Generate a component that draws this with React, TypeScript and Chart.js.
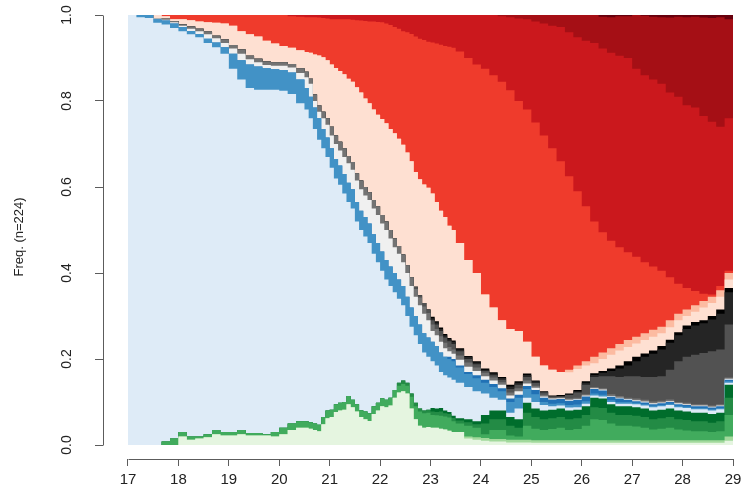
import React, { useEffect, useRef } from 'react';
import { Chart, registerables } from 'chart.js';

Chart.register(...registerables);

// ---- axes / categories ----
const FIRST_AGE = 17;
const LAST_AGE = 29;
const ageTicks = [17, 18, 19, 20, 21, 22, 23, 24, 25, 26, 27, 28, 29];
const freqTicks = [0, 0.2, 0.4, 0.6, 0.8, 1.0];
const yTitle = 'Freq. (n=224)';

// start of every time step, in months after age 17
// (two-month steps, monthly steps between 20.5 and 23.5, then two-month steps)
const stepStartMonths = [
  0, 2, 4, 6, 8, 10, 12, 14, 16, 18, 20, 22, 24, 26, 28, 30, 32, 34, 36, 38, 40,
  42, 43, 44, 45, 46, 47, 48, 49, 50, 51, 52, 53, 54, 55, 56, 57, 58, 59,
  60, 61, 62, 63, 64, 65, 66, 67, 68, 69, 70, 71, 72, 73, 74, 75, 76, 77,
  78, 80, 82, 84, 86, 88, 90, 92, 94, 96, 98, 100, 102, 104, 106, 108, 110,
  112, 114, 116, 118, 120, 122, 124, 126, 128, 130, 132, 134, 136, 138, 140, 142,
];

// ---- cumulative upper boundary of every state (bottom to top) ----
const lightGreenTop = [
  0, 0, 0, 0, 0, 0, .02, .012, .015, .018, .025, .022, .022, .025, .022, .022, .022, .02, .025, .035, .04,
  .04, .038, .035, .032, .048, .062, .065, .077, .08, .082, .095, .088, .078, .065, .06, .056, .072, .08,
  .09, .088, .092, .11, .122, .125, .12, .085, .06, .045, .04, .042, .04, .04, .038, .036, .033, .03,
  .03, .015, .012, .01, .008, .008, .006, .006, .006, .005, .005, .005, .005, .005, .005, .005, .005, .005,
  .005, .005, .005, .005, .005, .005, .005, .005, .005, .005, .005, .005, .005, .005, .01,
];
const paleGreenTop = [
  0, 0, 0, 0, 0, 0, .02, .012, .015, .018, .025, .022, .022, .025, .022, .022, .022, .02, .025, .035, .04,
  .04, .038, .035, .032, .048, .062, .065, .077, .08, .082, .095, .088, .078, .065, .06, .056, .072, .08,
  .09, .088, .092, .11, .122, .125, .12, .085, .06, .045, .04, .042, .04, .04, .038, .036, .033, .03,
  .03, .02, .018, .016, .014, .014, .012, .012, .012, .011, .011, .011, .011, .011, .011, .011, .011, .011,
  .011, .011, .011, .011, .011, .011, .011, .011, .011, .011, .011, .011, .011, .011, .02,
];
const midGreenTop = [
  0, 0, 0, 0, .008, .015, .03, .02, .02, .025, .035, .03, .03, .035, .028, .028, .025, .03, .04, .05, .055,
  .055, .053, .05, .047, .065, .08, .082, .095, .098, .1, .114, .105, .095, .081, .078, .074, .09, .098,
  .109, .105, .11, .128, .138, .142, .138, .112, .09, .078, .074, .075, .07, .069, .068, .066, .064, .055,
  .05, .045, .04, .025, .035, .035, .022, .02, .045, .038, .035, .037, .04, .035, .037, .045, .06, .058,
  .05, .045, .045, .043, .04, .036, .038, .04, .036, .034, .032, .032, .03, .032, .07,
];
const greenTop = [
  0, 0, 0, 0, .008, .015, .03, .02, .02, .025, .035, .03, .03, .035, .028, .028, .025, .03, .04, .05, .055,
  .055, .053, .05, .047, .065, .08, .082, .095, .098, .1, .114, .105, .095, .081, .078, .074, .09, .098,
  .109, .105, .11, .128, .145, .15, .145, .12, .098, .085, .08, .082, .078, .077, .078, .074, .072, .063,
  .057, .053, .048, .05, .06, .06, .045, .04, .075, .065, .06, .062, .065, .06, .062, .07, .088, .086,
  .075, .07, .07, .068, .065, .06, .062, .065, .06, .058, .055, .055, .052, .055, .11,
];
const darkGreenTop = [
  0, 0, 0, 0, .008, .015, .03, .02, .02, .025, .035, .03, .03, .035, .028, .028, .025, .03, .04, .05, .055,
  .055, .053, .05, .047, .065, .08, .082, .095, .098, .1, .114, .105, .095, .081, .078, .074, .09, .098,
  .109, .105, .11, .128, .145, .15, .145, .12, .098, .085, .08, .082, .086, .085, .086, .08, .077, .068,
  .062, .06, .055, .07, .08, .08, .065, .06, .098, .085, .08, .082, .085, .08, .082, .09, .11, .108,
  .095, .09, .09, .088, .085, .08, .082, .085, .08, .078, .075, .075, .072, .075, .14,
];
const lightBlueTop = [
  1, .995, .993, .982, .978, .97, .962, .955, .948, .935, .925, .91, .875, .85, .83, .826, .826, .826, .824, .816, .795,
  .78, .76, .735, .71, .69, .67, .645, .62, .605, .585, .565, .55, .52, .5, .485, .47, .445, .425,
  .405, .385, .37, .355, .34, .325, .3, .275, .255, .235, .215, .205, .195, .185, .17, .162, .157, .152,
  .145, .135, .125, .12, .11, .105, .075, .085, .11, .1, .093, .09, .092, .087, .088, .096, .115, .113,
  .1, .096, .096, .095, .092, .088, .09, .093, .088, .086, .083, .083, .08, .083, .145,
];
const blueTop = [
  1, 1, 1, .99, .987, .98, .972, .963, .955, .945, .936, .925, .91, .895, .885, .88, .876, .874, .872, .866, .85,
  .83, .81, .785, .76, .735, .715, .69, .665, .65, .63, .61, .595, .565, .545, .53, .515, .49, .47,
  .45, .43, .415, .4, .385, .37, .345, .32, .3, .28, .26, .25, .24, .23, .215, .205, .2, .195,
  .18, .165, .155, .145, .135, .125, .1, .11, .13, .118, .1, .096, .097, .093, .094, .102, .12, .117,
  .104, .1, .1, .098, .095, .091, .093, .096, .091, .089, .086, .086, .083, .086, .148,
];
const deepBlueTop = [
  1, 1, 1, .99, .987, .98, .972, .963, .955, .945, .936, .925, .91, .895, .885, .88, .876, .874, .872, .866, .85,
  .83, .81, .785, .76, .735, .715, .69, .665, .65, .63, .61, .595, .565, .545, .53, .515, .49, .47,
  .45, .43, .415, .4, .385, .37, .345, .32, .3, .28, .26, .25, .24, .23, .215, .205, .205, .2,
  .185, .17, .162, .152, .142, .132, .108, .117, .137, .128, .11, .106, .107, .103, .105, .113, .13, .127,
  .112, .108, .105, .102, .099, .095, .097, .1, .095, .093, .09, .09, .087, .09, .152,
];
const whiteTop = [
  1, 1, 1, .992, .989, .983, .975, .968, .962, .955, .946, .935, .922, .91, .897, .89, .884, .882, .882, .878, .865,
  .855, .84, .8, .775, .76, .745, .72, .7, .685, .67, .655, .64, .615, .595, .58, .57, .55, .535,
  .515, .5, .48, .46, .445, .425, .4, .37, .345, .325, .305, .29, .265, .255, .24, .225, .218, .212,
  .198, .182, .172, .16, .15, .14, .115, .125, .143, .133, .113, .108, .109, .105, .107, .115, .132, .129,
  .114, .11, .107, .104, .101, .097, .099, .102, .097, .095, .092, .092, .089, .092, .154,
];
const grayTop = [
  1, 1, 1, .993, .991, .986, .978, .973, .968, .962, .952, .943, .93, .92, .905, .898, .892, .89, .89, .886, .876,
  .868, .852, .815, .79, .775, .76, .74, .72, .705, .69, .672, .658, .632, .615, .6, .588, .57, .555,
  .535, .52, .5, .48, .463, .443, .418, .39, .363, .343, .322, .307, .28, .27, .253, .238, .228, .222,
  .208, .192, .18, .168, .157, .146, .122, .132, .15, .138, .117, .11, .111, .108, .11, .118, .135, .132,
  .118, .114, .11, .108, .105, .101, .103, .106, .1, .098, .095, .095, .092, .095, .157,
];
const darkGrayTop = [
  1, 1, 1, .993, .991, .986, .978, .973, .968, .962, .952, .943, .93, .92, .905, .898, .892, .89, .89, .886, .876,
  .868, .852, .815, .79, .775, .76, .74, .72, .705, .69, .672, .658, .632, .615, .6, .588, .57, .555,
  .535, .52, .5, .48, .463, .443, .418, .39, .368, .348, .33, .315, .29, .28, .265, .25, .241, .235,
  .218, .2, .188, .172, .162, .152, .13, .14, .158, .144, .122, .113, .113, .116, .122, .14, .158, .16,
  .16, .158, .16, .16, .158, .158, .16, .175, .195, .205, .21, .214, .218, .222, .28,
];
const charcoalTop = [
  1, 1, 1, .993, .991, .986, .978, .973, .968, .962, .952, .943, .93, .92, .905, .898, .892, .89, .89, .886, .876,
  .868, .852, .815, .79, .775, .76, .74, .72, .705, .69, .672, .658, .632, .615, .6, .588, .57, .555,
  .535, .52, .5, .48, .463, .443, .418, .39, .368, .348, .33, .315, .295, .285, .27, .255, .246, .24,
  .222, .205, .192, .175, .166, .156, .136, .145, .163, .148, .123, .114, .114, .118, .125, .145, .163, .168,
  .172, .178, .185, .195, .205, .212, .222, .238, .255, .27, .278, .283, .292, .305, .355,
];
const blackTop = [
  1, 1, 1, .993, .991, .986, .978, .973, .968, .962, .952, .943, .93, .92, .905, .898, .892, .89, .89, .886, .876,
  .868, .852, .815, .79, .775, .76, .74, .72, .705, .69, .672, .658, .632, .615, .6, .588, .57, .555,
  .535, .52, .5, .48, .463, .443, .418, .39, .368, .348, .33, .315, .298, .288, .273, .258, .249, .243,
  .225, .207, .195, .178, .169, .158, .14, .148, .166, .15, .125, .115, .116, .12, .128, .148, .167, .172,
  .178, .185, .195, .205, .213, .22, .23, .245, .262, .278, .286, .29, .3, .315, .365,
];
const peachTop = [
  1, 1, 1, 1, .997, .99, .99, .988, .985, .983, .982, .98, .975, .962, .955, .95, .94, .934, .928, .924, .918,
  .914, .912, .908, .906, .902, .895, .885, .877, .87, .862, .852, .845, .832, .82, .806, .795, .78, .768,
  .758, .748, .735, .725, .712, .698, .68, .66, .635, .618, .606, .598, .585, .565, .545, .53, .51, .5,
  .47, .43, .4, .35, .32, .29, .27, .265, .24, .205, .185, .175, .17, .169, .177, .185, .19, .2,
  .21, .22, .228, .236, .244, .252, .26, .274, .29, .3, .31, .32, .33, .345, .385,
];
const salmonTop = [
  1, 1, 1, 1, .997, .99, .99, .988, .985, .983, .982, .98, .975, .962, .955, .95, .94, .934, .928, .924, .918,
  .914, .912, .908, .906, .902, .895, .885, .877, .87, .862, .852, .845, .832, .82, .806, .795, .78, .768,
  .758, .748, .735, .725, .712, .698, .68, .66, .635, .618, .606, .598, .585, .565, .545, .53, .51, .5,
  .47, .43, .4, .35, .32, .29, .27, .265, .24, .205, .185, .175, .17, .175, .185, .195, .205, .215,
  .225, .235, .244, .252, .26, .268, .275, .29, .305, .315, .325, .335, .345, .36, .4,
];
const redTop = [
  1, 1, 1, 1, 1, 1, 1, 1, 1, 1, 1, 1, 1, 1, 1, 1, 1, 1, 1, .997, .996,
  .995, .995, .995, .994, .993, .992, .99, .99, .99, .99, .99, .989, .988, .987, .986, .985, .985, .984,
  .983, .98, .977, .972, .968, .962, .96, .956, .95, .945, .942, .938, .936, .934, .931, .928, .926, .924,
  .915, .9, .885, .875, .86, .845, .825, .8, .78, .75, .72, .69, .66, .625, .59, .555, .52, .495,
  .475, .46, .448, .438, .425, .415, .405, .39, .375, .365, .358, .352, .35, .37, .405,
];
const crimsonTop = [
  1, 1, 1, 1, 1, 1, 1, 1, 1, 1, 1, 1, 1, 1, 1, 1, 1, 1, 1, 1, 1,
  1, 1, 1, 1, 1, 1, 1, 1, 1, 1, 1, 1, 1, 1, 1, 1, 1, 1,
  1, 1, 1, 1, 1, 1, 1, 1, 1, 1, 1, 1, 1, 1, 1, 1, 1, 1,
  1, 1, 1, 1, 1, .997, .995, .992, .99, .985, .98, .975, .972, .96, .948, .94, .935, .922,
  .912, .905, .9, .875, .86, .85, .84, .82, .81, .79, .785, .765, .752, .74, .76,
];
const maroonTop = [
  1, 1, 1, 1, 1, 1, 1, 1, 1, 1, 1, 1, 1, 1, 1, 1, 1, 1, 1, 1, 1,
  1, 1, 1, 1, 1, 1, 1, 1, 1, 1, 1, 1, 1, 1, 1, 1, 1, 1,
  1, 1, 1, 1, 1, 1, 1, 1, 1, 1, 1, 1, 1, 1, 1, 1, 1, 1,
  1, 1, 1, 1, 1, 1, 1, 1, 1, 1, 1, 1, 1, 1, 1, 1, 1, .996,
  .995, .997, .997, 1, .998, .996, .995, .994, .996, .995, .996, .994, .993, .995, .99,
];
const darkestTop = [
  1, 1, 1, 1, 1, 1, 1, 1, 1, 1, 1, 1, 1, 1, 1, 1, 1, 1, 1, 1, 1,
  1, 1, 1, 1, 1, 1, 1, 1, 1, 1, 1, 1, 1, 1, 1, 1, 1, 1,
  1, 1, 1, 1, 1, 1, 1, 1, 1, 1, 1, 1, 1, 1, 1, 1, 1, 1,
  1, 1, 1, 1, 1, 1, 1, 1, 1, 1, 1, 1, 1, 1, 1, 1, 1, 1,
  1, 1, 1, 1, 1, 1, 1, 1, 1, 1, 1, 1, 1, 1, 1,
];

// state colours, bottom to top
const stateColors = [
  '#E5F5E0', '#A1D99B', '#41AB5D', '#238B45', '#006D2C',
  '#DEEBF7', '#4292C6', '#2171B5', '#F0F0F0',
  '#737373', '#525252', '#252525', '#000000',
  '#FEE0D2', '#FCBBA1', '#EF3B2C', '#CB181D', '#A50F15', '#67000D',
];
const stateTops = [
  lightGreenTop, paleGreenTop, midGreenTop, greenTop, darkGreenTop,
  lightBlueTop, blueTop, deepBlueTop, whiteTop,
  grayTop, darkGrayTop, charcoalTop, blackTop,
  peachTop, salmonTop, redTop, crimsonTop, maroonTop, darkestTop,
];

const FONT = "'Liberation Sans', Arial, Helvetica, sans-serif";
const AXIS_COLOR = '#5c5c5c';
const TEXT_COLOR = '#222222';

const stepStarts = stepStartMonths.map((m) => FIRST_AGE + m / 12);

const axisLines = {
  id: 'axisLines',
  afterDraw(chart: any) {
    const { ctx, chartArea, scales } = chart;
    const xs = scales.x;
    const ys = scales.y;
    ctx.save();
    ctx.strokeStyle = AXIS_COLOR;
    ctx.lineWidth = 1;
    const lx = Math.floor(chartArea.left) + 0.5;
    const by = Math.floor(chartArea.bottom) + 0.5;
    ctx.beginPath();
    ctx.moveTo(lx, Math.round(ys.getPixelForValue(freqTicks[0])) + 0.5);
    ctx.lineTo(lx, Math.round(ys.getPixelForValue(freqTicks[freqTicks.length - 1])) + 0.5);
    ctx.moveTo(Math.round(xs.getPixelForValue(ageTicks[0])) + 0.5, by);
    ctx.lineTo(Math.round(xs.getPixelForValue(ageTicks[ageTicks.length - 1])) + 0.5, by);
    ctx.stroke();
    ctx.restore();
  },
};

export default function App() {
  const ref = useRef<HTMLCanvasElement>(null);

  useEffect(() => {
    const canvas = ref.current;
    if (!canvas) return;

    const datasets = stateTops.map((tops, k) => ({
      label: 'state ' + (k + 1),
      data: [
        ...tops.map((v, j) => ({ x: stepStarts[j], y: v })),
        { x: LAST_AGE, y: tops[tops.length - 1] },
      ],
      backgroundColor: stateColors[k],
      borderColor: 'rgba(0,0,0,0)',
      borderWidth: 0,
      pointRadius: 0,
      pointHoverRadius: 0,
      stepped: true,
      tension: 0,
      fill: 'origin',
    }));

    // plot region: age 17 at x=128, age 29 at x=733; freq 0 at y=445, 1 at y=15
    const pxPerYear = (733 - 128) / (LAST_AGE - FIRST_AGE);
    const xMin = FIRST_AGE - (128 - 103) / pxPerYear;
    const yMin = -(459 - 445) / 430;

    const chart = new Chart(canvas, {
      type: 'line',
      data: { datasets: datasets as any },
      plugins: [axisLines],
      options: {
        responsive: false,
        maintainAspectRatio: false,
        devicePixelRatio: 1,
        animation: false,
        events: [],
        layout: { padding: { left: 0, right: 10, top: 15, bottom: 0 } },
        plugins: {
          legend: { display: false },
          tooltip: { enabled: false },
          filler: { propagate: false },
        },
        scales: {
          x: {
            type: 'linear',
            bounds: 'data',
            min: xMin,
            max: LAST_AGE,
            afterBuildTicks: (s: any) => {
              s.ticks = ageTicks.map((v) => ({ value: v }));
            },
            afterFit: (s: any) => {
              s.height = 34;
              s.paddingLeft = 0;
              s.paddingRight = 0;
            },
            grid: { drawOnChartArea: false, drawTicks: true, tickLength: 7, color: AXIS_COLOR, lineWidth: 1 },
            border: { display: false },
            ticks: {
              autoSkip: false,
              minRotation: 0,
              maxRotation: 0,
              padding: 5,
              color: TEXT_COLOR,
              font: { family: FONT, size: 15 },
              callback: (v: any) => String(v),
            },
          },
          y: {
            type: 'linear',
            bounds: 'data',
            min: yMin,
            max: 1,
            afterBuildTicks: (s: any) => {
              s.ticks = freqTicks.map((v) => ({ value: v }));
            },
            afterFit: (s: any) => {
              s.width = 103;
              s.paddingTop = 0;
              s.paddingBottom = 0;
            },
            grid: { drawOnChartArea: false, drawTicks: true, tickLength: 8, color: AXIS_COLOR, lineWidth: 1 },
            border: { display: false },
            ticks: {
              minRotation: 90,
              maxRotation: 90,
              crossAlign: 'center',
              padding: 18,
              color: TEXT_COLOR,
              font: { family: FONT, size: 14 },
              callback: (v: any) => Number(v).toFixed(1),
            },
            title: {
              display: true,
              text: yTitle,
              color: TEXT_COLOR,
              font: { family: FONT, size: 13 },
              padding: { top: 12, bottom: 0 },
            },
          },
        },
      } as any,
    });

    return () => chart.destroy();
  }, []);

  return (
    <div style={{ position: 'fixed', left: 0, top: 0, width: 743, height: 493, background: '#ffffff' }}>
      <canvas ref={ref} width={743} height={493} style={{ display: 'block', width: 743, height: 493 }} />
    </div>
  );
}
